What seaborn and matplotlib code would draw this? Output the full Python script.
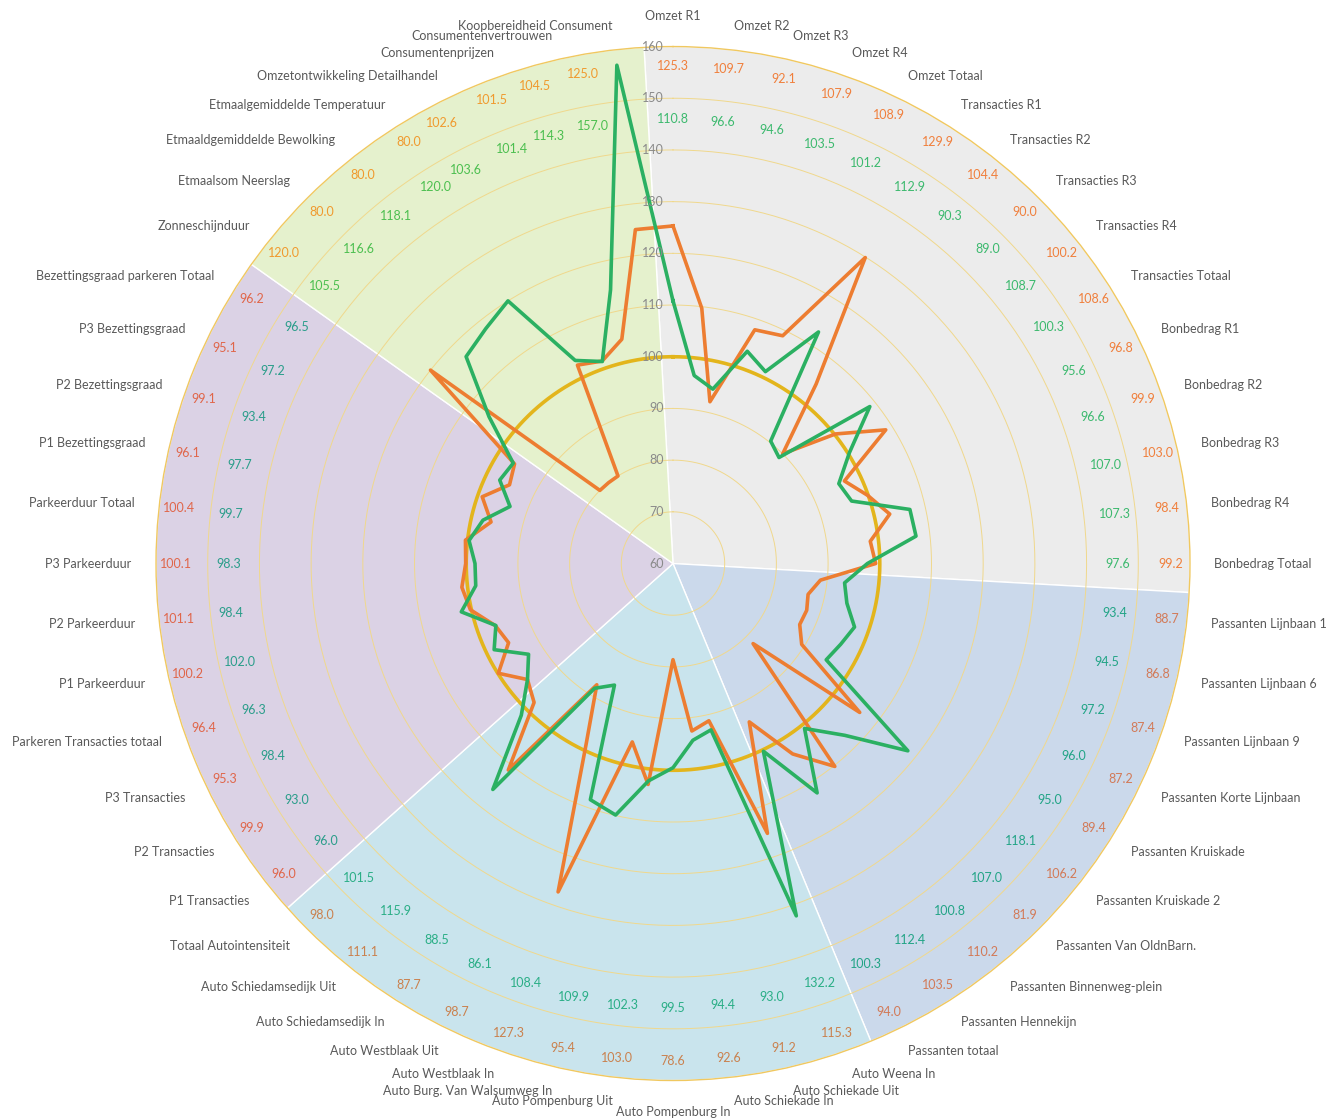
# Radar chart: two index series (orange / green) over 56 retail indicators
import numpy as np
import pandas as pd
import matplotlib
matplotlib.use('Agg')
import matplotlib.pyplot as plt
from matplotlib.transforms import offset_copy
import seaborn as sns

categories = [
    'Omzet R1', 'Omzet R2', 'Omzet R3', 'Omzet R4', 'Omzet Totaal',
    'Transacties R1', 'Transacties R2', 'Transacties R3', 'Transacties R4', 'Transacties Totaal',
    'Bonbedrag R1', 'Bonbedrag R2', 'Bonbedrag R3', 'Bonbedrag R4', 'Bonbedrag Totaal',
    'Passanten Lijnbaan 1', 'Passanten Lijnbaan 6', 'Passanten Lijnbaan 9', 'Passanten Korte Lijnbaan',
    'Passanten Kruiskade', 'Passanten Kruiskade 2', 'Passanten Van OldnBarn.', 'Passanten Binnenweg-plein',
    'Passanten Hennekijn', 'Passanten totaal',
    'Auto Weena In', 'Auto Schiekade Uit', 'Auto Schiekade In', 'Auto Pompenburg In', 'Auto Pompenburg Uit',
    'Auto Burg. Van Walsumweg In', 'Auto Westblaak In', 'Auto Westblaak Uit', 'Auto Schiedamsedijk In',
    'Auto Schiedamsedijk Uit', 'Totaal Autointensiteit',
    'P1 Transacties', 'P2 Transacties', 'P3 Transacties', 'Parkeren Transacties totaal',
    'P1 Parkeerduur', 'P2 Parkeerduur', 'P3 Parkeerduur', 'Parkeerduur Totaal',
    'P1 Bezettingsgraad', 'P2 Bezettingsgraad', 'P3 Bezettingsgraad', 'Bezettingsgraad parkeren Totaal',
    'Zonneschijnduur', 'Etmaalsom Neerslag', 'Etmaaldgemiddelde Bewolking', 'Etmaalgemiddelde Temperatuur',
    'Omzetontwikkeling Detailhandel', 'Consumentenprijzen', 'Consumentenvertrouwen', 'Koopbereidheid Consument',
]

orange_vals = [125.3, 109.7, 92.1, 107.9, 108.9, 129.9, 104.4, 90.0, 100.2, 108.6,
               96.8, 99.9, 103.0, 98.4, 99.2,
               88.7, 86.8, 87.4, 87.2, 89.4, 106.2, 81.9, 110.2, 103.5, 94.0,
               115.3, 91.2, 92.6, 78.6, 103.0, 95.4, 127.3, 98.7, 87.7, 111.1, 98.0,
               96.0, 99.9, 95.3, 96.4, 100.2, 101.1, 100.1, 100.4, 96.1, 99.1, 95.1, 96.2,
               120.0, 80.0, 80.0, 80.0, 102.6, 101.5, 104.5, 125.0]

green_vals = [110.8, 96.6, 94.6, 103.5, 101.2, 112.9, 90.3, 89.0, 108.7, 100.3,
              95.6, 96.6, 107.0, 107.3, 97.6,
              93.4, 94.5, 97.2, 96.0, 95.0, 118.1, 107.0, 100.8, 112.4, 100.3,
              132.2, 93.0, 94.4, 99.5, 102.3, 109.9, 108.4, 86.1, 88.5, 115.9, 101.5,
              96.0, 93.0, 98.4, 96.3, 102.0, 98.4, 98.3, 99.7, 97.7, 93.4, 97.2, 96.5,
              105.5, 116.6, 118.1, 120.0, 103.6, 101.4, 114.3, 157.0]

# groups of categories (counts) with background colours and label colours
group_sizes = [15, 10, 11, 12, 8]
group_bg = ['#ececec', '#cbd9eb', '#c9e4ed', '#dbd2e5', '#e5f1cd']
group_orange_lbl = ['#f07f3c', '#d27a58', '#c9814e', '#e0664a', '#f09a2e']
group_green_lbl = ['#3cb96e', '#22a486', '#2aae86', '#2a9d8a', '#4cbf4f']

rticks = [60, 70, 80, 90, 100, 110, 120, 130, 140, 150, 160]

n = len(categories)
step = 2 * np.pi / n
theta = np.arange(n) * step

fig = plt.figure(figsize=(13.29, 11.19), dpi=100)
ax = fig.add_axes([0.1174, 0.0344, 0.778, 0.924], projection='polar')
ax.set_theta_zero_location('N')
ax.set_theta_direction(-1)

# coloured background sectors
start = 0
for size, col in zip(group_sizes, group_bg):
    ax.bar((start - 0.5) * step, 100, width=size * step, bottom=60, align='edge',
           color=col, edgecolor='white', linewidth=1, zorder=1)
    start += size

# circular grid
ring = np.linspace(0, 2 * np.pi, 400)
for r in rticks[1:-1]:
    ax.plot(ring, np.full_like(ring, r), color='#f0d88c', lw=0.7, zorder=2)
ax.plot(ring, np.full_like(ring, 100), color='#e3b51c', lw=2.6, zorder=3)

# series lines (closed loop)
df = pd.DataFrame({
    'theta': np.concatenate([theta, theta[:1], theta, theta[:1]]),
    'value': orange_vals + orange_vals[:1] + green_vals + green_vals[:1],
    'series': ['orange'] * (n + 1) + ['green'] * (n + 1),
})
sns.lineplot(data=df, x='theta', y='value', hue='series', estimator=None,
             sort=False, palette={'orange': '#ed7d31', 'green': '#2bb062'},
             linewidth=2.6, legend=False, ax=ax, zorder=4)
ax.set_xlabel('')
ax.set_ylabel('')
ax.set_ylim(60, 160)
ax.grid(False)
ax.set_xticks([])
ax.set_yticks([])
ax.spines['polar'].set_color('#f0c860')
ax.spines['polar'].set_linewidth(1.0)

plt.rcParams['font.family'] = ['Lato', 'DejaVu Sans']

# radial tick labels along the top
tk_trans = offset_copy(ax.transData, fig=fig, x=-9, y=0, units='dots')
for r in rticks:
    ax.text(0, r, str(r), transform=tk_trans, ha='right', va='center',
            fontsize=9, color='#8a8a8a', zorder=6)

# value labels and category labels
lbl_orange, lbl_green = [], []
for size, co, cg in zip(group_sizes, group_orange_lbl, group_green_lbl):
    lbl_orange += [co] * size
    lbl_green += [cg] * size

# the last few value labels were nudged counter-clockwise in the original (degrees)
nudge = {52: -2.0, 53: -2.0, 54: -3.3, 55: -4.0}

for i, (t, cat) in enumerate(zip(theta, categories)):
    tl = t + np.radians(nudge.get(i, 0.0))
    ax.text(tl, 156.2, f'{orange_vals[i]:.1f}', ha='center', va='center',
            fontsize=9, color=lbl_orange[i], zorder=6)
    ax.text(tl, 146.0, f'{green_vals[i]:.1f}', ha='center', va='center',
            fontsize=9, color=lbl_green[i], zorder=6)
    deg = np.degrees(t)
    if deg < 1 or abs(deg - 180) < 1:
        ha, rr = 'center', 166
    elif deg < 180:
        ha, rr = 'left', 164.7
    else:
        ha, rr = 'right', 164.7
    ax.text(t, rr, cat, ha=ha, va='center', fontsize=9, color='#595959')

fig.savefig('out.png', dpi=100)
